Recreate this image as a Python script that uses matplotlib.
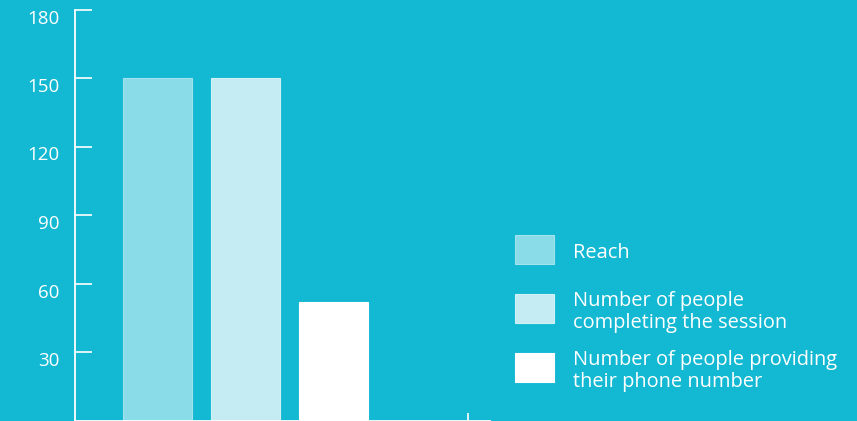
import matplotlib.pyplot as plt
from matplotlib.patches import Rectangle

labels = ["Reach", "Number of people\ncompleting the session",
          "Number of people providing\ntheir phone number"]
values = [150, 150, 52]
colors = ["#8adce8", "#c4ecf2", "#ffffff"]
edges = ["#a0e3ed", "#d2f1f6", "#ffffff"]
yticks = [30, 60, 90, 120, 150, 180]

bg = "#13b8d3"
plt.rcParams['font.family'] = ['Open Sans', 'DejaVu Sans']

fig = plt.figure(figsize=(8.57, 4.21), dpi=100, facecolor=bg)
W, H = 857, 421
# axes spans pixel x 75..490, y(0)=420.5 .. y(180)=9.5
ax = fig.add_axes([75 / W, 0.5 / H, (490 - 75) / W, 411 / H])
ax.set_facecolor(bg)

x = range(len(values))
ax.bar(x, values, width=0.784, color=colors, edgecolor=edges, linewidth=0.8)

ax.set_xlim(-0.94, 3.78)
ax.set_ylim(0, 180)
ax.set_yticks(yticks)
ax.set_yticklabels([str(t) for t in yticks])
ax.set_xticks([3.53])
ax.set_xticklabels([""])

for s in ["top", "right"]:
    ax.spines[s].set_visible(False)
for s in ["left", "bottom"]:
    ax.spines[s].set_color("white")
    ax.spines[s].set_linewidth(1.3)

ax.tick_params(axis="y", direction="in", length=12.2, width=1.2, color="white",
               labelcolor="white", labelsize=13.5, pad=11)
ax.tick_params(axis="x", direction="in", length=6, width=1.2, color="white")
for lbl in ax.get_yticklabels():
    lbl.set_verticalalignment("top")

# legend
y0 = 249.5
step = 59
for i, (lab, c, ec) in enumerate(zip(labels, colors, edges)):
    yc = y0 + i * step
    fig.add_artist(Rectangle((515 / W, (H - yc - 14.5) / H), 39 / W, 29 / H,
                             transform=fig.transFigure, facecolor=c, edgecolor=ec, lw=0.8))
    fig.text(573 / W, (H - yc - 3.5) / H, lab, color="white", fontsize=14.4,
             va="center", ha="left", linespacing=1.08)

plt.savefig("out.png", dpi=100, facecolor=bg)
